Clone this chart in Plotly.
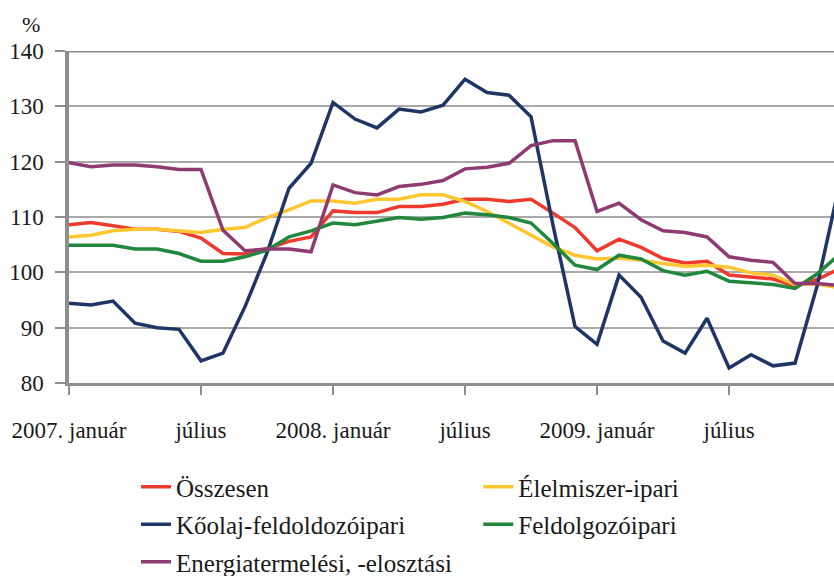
import plotly.graph_objects as go

# ---- data ----
month_names = ["január", "február", "március", "április", "május", "június",
               "július", "augusztus", "szeptember", "október", "november", "december"]
years = [2007, 2008, 2009]
months = [f"{y}. {m}" for y in years for m in month_names]

tick_vals = ["2007. január", "2007. július", "2008. január", "2008. július",
             "2009. január", "2009. július"]
tick_text = ["2007. január", "július", "2008. január", "július", "2009. január", "július"]

osszesen = [108.6, 109.0, 108.4, 107.8, 107.8, 107.4, 106.2, 103.4, 103.3, 104.3,
            105.6, 106.4, 111.1, 110.8, 110.8, 111.9, 111.9, 112.3, 113.2, 113.2,
            112.8, 113.2, 110.7, 108.1, 103.9, 106.0, 104.5, 102.5, 101.7, 102.0,
            99.5, 99.2, 98.8, 97.5, 98.7, 100.6]
elelmiszer = [106.4, 106.7, 107.5, 107.8, 107.8, 107.5, 107.2, 107.8, 108.1, 109.9,
              111.3, 112.9, 112.9, 112.5, 113.2, 113.2, 114.0, 114.0, 112.8, 111.0,
              108.9, 106.7, 104.6, 103.1, 102.4, 102.6, 102.2, 101.6, 101.1, 101.3,
              100.9, 99.9, 99.5, 97.8, 97.9, 97.2]
koolaj = [94.4, 94.1, 94.8, 90.8, 90.0, 89.7, 84.0, 85.4, 93.8, 103.5,
          115.2, 119.7, 130.7, 127.7, 126.1, 129.5, 129.0, 130.2, 134.9, 132.5,
          132.0, 128.1, 108.5, 90.2, 87.0, 99.5, 95.5, 87.6, 85.4, 91.7,
          82.7, 85.1, 83.1, 83.6, 97.5, 115.5]
feldolgozo = [104.9, 104.9, 104.9, 104.2, 104.2, 103.4, 102.0, 102.0, 102.8, 104.0,
              106.4, 107.5, 108.9, 108.6, 109.2, 109.9, 109.6, 109.9, 110.7, 110.4,
              109.9, 108.9, 105.2, 101.3, 100.5, 103.1, 102.4, 100.3, 99.5, 100.2,
              98.4, 98.1, 97.8, 97.1, 99.7, 103.2]
energia = [119.8, 119.1, 119.4, 119.4, 119.1, 118.6, 118.6, 107.6, 103.9, 104.2,
           104.2, 103.7, 115.8, 114.4, 114.0, 115.5, 115.9, 116.6, 118.7, 119.0,
           119.7, 122.9, 123.8, 123.8, 111.0, 112.5, 109.5, 107.5, 107.2, 106.4,
           102.8, 102.2, 101.8, 98.0, 98.0, 97.6]

series = [
    ("Összesen", osszesen, "#EE3A2C", "legend"),
    ("Élelmiszer-ipari", elelmiszer, "#FFC62F", "legend2"),
    ("Kőolaj-feldoldozóipari", koolaj, "#1E3565", "legend"),
    ("Feldolgozóipari", feldolgozo, "#21873C", "legend2"),
    ("Energiatermelési, -elosztási", energia, "#8E3B72", "legend"),
]

FONT = '"Liberation Serif", "DejaVu Serif", serif'
TXT = "#1a1a1a"

fig = go.Figure()
for name, vals, color, lg in series:
    fig.add_trace(go.Scatter(
        x=months, y=vals, name=name, mode="lines",
        line=dict(color=color, width=3.5),
        legend=lg, legendgroup=name,
    ))

axis_grey = "#8E8E90"
fig.update_layout(
    width=834, height=576,
    margin=dict(l=69, r=0, t=51, b=193, autoexpand=False),
    paper_bgcolor="white", plot_bgcolor="white",
    font=dict(family=FONT, size=23, color=TXT),
    showlegend=True,
    legend=dict(x=0.0876, y=-0.244, xanchor="left", yanchor="top",
                orientation="v", tracegroupgap=2,
                font=dict(family=FONT, size=25, color=TXT),
                bgcolor="rgba(0,0,0,0)"),
    legend2=dict(x=0.535, y=-0.244, xanchor="left", yanchor="top",
                 orientation="v", tracegroupgap=2,
                 font=dict(family=FONT, size=25, color=TXT),
                 bgcolor="rgba(0,0,0,0)"),
    xaxis=dict(
        type="category", categoryorder="array", categoryarray=months,
        range=[0, 34.77], autorange=False,
        tickmode="array", tickvals=tick_vals, ticktext=tick_text,
        showgrid=False, zeroline=False,
        showline=True, linecolor=axis_grey, linewidth=3,
        ticks="outside", ticklen=9, tickwidth=2, tickcolor=axis_grey,
        ticklabelstandoff=15,
        tickfont=dict(family=FONT, size=23, color=TXT),
    ),
    yaxis=dict(
        range=[80, 140], autorange=False,
        tickvals=[80, 90, 100, 110, 120, 130, 140],
        showgrid=True, gridcolor="#A9A9AB", gridwidth=1.5,
        zeroline=False,
        showline=True, linecolor=axis_grey, linewidth=3.5,
        ticks="outside", ticklen=10, tickwidth=2, tickcolor=axis_grey,
        ticklabelstandoff=7,
        tickfont=dict(family=FONT, size=23, color=TXT),
    ),
    shapes=[dict(type="line", xref="paper", yref="y", x0=0, x1=1, y0=140, y1=140,
                 line=dict(color=axis_grey, width=3), layer="below")],
    annotations=[dict(text="%", xref="paper", yref="paper", x=-0.05, y=1.08,
                      xanchor="center", yanchor="middle", showarrow=False,
                      font=dict(family=FONT, size=22, color=TXT))],
)

fig.write_html("out.html",
               config={"displayModeBar": False},
               post_script="document.body.style.margin='0';document.body.style.overflow='hidden';")
